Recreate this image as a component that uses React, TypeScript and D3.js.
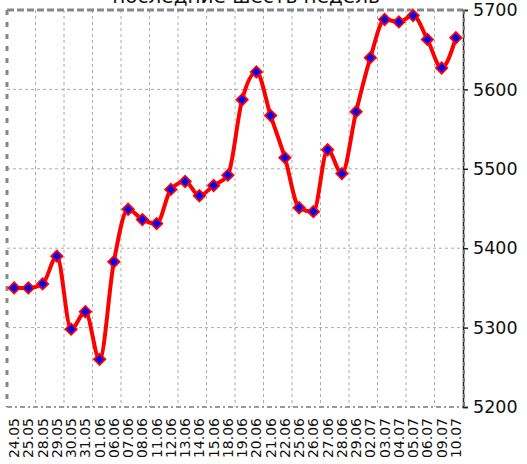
import React, { useEffect, useRef } from "react";
import * as d3 from "d3";

const title = "последние шесть недель";

const dates = [
  "24.05", "25.05", "28.05", "29.05", "30.05", "31.05", "01.06", "06.06",
  "07.06", "08.06", "11.06", "12.06", "13.06", "14.06", "15.06", "18.06",
  "19.06", "20.06", "21.06", "22.06", "25.06", "26.06", "27.06", "28.06",
  "29.06", "02.07", "03.07", "04.07", "05.07", "06.07", "09.07", "10.07",
];

const prices = [
  5350, 5350, 5355, 5390, 5298, 5320, 5260, 5383,
  5449, 5436, 5431, 5474, 5484, 5466, 5479, 5492,
  5587, 5622, 5567, 5514, 5451, 5446, 5524, 5494,
  5572, 5640, 5688, 5685, 5693, 5663, 5627, 5665,
];

const yTicks = [5200, 5300, 5400, 5500, 5600, 5700];

const App = () => {
  const ref = useRef(null);
  const width = 527;
  const height = 464;
  const margin = { top: 10, right: 64, bottom: 57, left: 7 };

  useEffect(() => {
    const svg = d3.select(ref.current);
    svg.selectAll("*").remove();

    const x = d3
      .scaleBand()
      .domain(dates)
      .range([margin.left, width - margin.right]);
    const y = d3
      .scaleLinear()
      .domain([5200, 5700])
      .range([height - margin.bottom, margin.top]);

    const x0 = margin.left;
    const x1 = width - margin.right;
    const y0 = margin.top;
    const y1 = height - margin.bottom;

    // grid
    const grid = svg.append("g");
    grid
      .selectAll("line.h")
      .data(yTicks.slice(1, -1))
      .enter()
      .append("line")
      .attr("x1", x0)
      .attr("x2", x1)
      .attr("y1", d => y(d))
      .attr("y2", d => y(d))
      .attr("stroke", "#aaa")
      .attr("stroke-dasharray", "3,3");
    grid
      .selectAll("line.v")
      .data(dates.filter((d, i) => i > 0 && i % 2 === 0))
      .enter()
      .append("line")
      .attr("x1", d => x(d))
      .attr("x2", d => x(d))
      .attr("y1", y0)
      .attr("y2", y1)
      .attr("stroke", "#aaa")
      .attr("stroke-dasharray", "3,3");

    // frame
    svg
      .append("line")
      .attr("x1", x0).attr("x2", x1).attr("y1", y0).attr("y2", y0)
      .attr("stroke", "#888").attr("stroke-width", 3).attr("stroke-dasharray", "7,3");
    svg
      .append("line")
      .attr("x1", x0).attr("x2", x1).attr("y1", y1).attr("y2", y1)
      .attr("stroke", "#999").attr("stroke-width", 2).attr("stroke-dasharray", "5,3,2,3");
    svg
      .append("line")
      .attr("x1", x0).attr("x2", x0).attr("y1", y0).attr("y2", y1)
      .attr("stroke", "#888").attr("stroke-width", 3).attr("stroke-dasharray", "5,7");

    // right axis
    const axis = svg
      .append("g")
      .attr("transform", `translate(${x1},0)`)
      .call(
        d3
          .axisRight(y)
          .tickValues(yTicks)
          .tickFormat(d3.format("d"))
          .tickSize(5)
          .tickPadding(5)
      );
    axis.select(".domain").attr("stroke", "#222").attr("stroke-width", 1.5);
    axis.selectAll(".tick line").attr("stroke", "#222").attr("stroke-width", 1.5);
    axis
      .selectAll(".tick text")
      .attr("font-family", "DejaVu Sans")
      .attr("font-size", 17.5)
      .attr("fill", "#111");
    svg
      .append("line")
      .attr("x1", x1 + 1).attr("x2", x1 + 1).attr("y1", y0).attr("y2", y1)
      .attr("stroke", "#777").attr("stroke-width", 2).attr("stroke-dasharray", "4,4");

    // x labels
    svg
      .append("g")
      .selectAll("text")
      .data(dates)
      .enter()
      .append("text")
      .attr(
        "transform",
        d => `translate(${x(d) + x.bandwidth() / 2 + 5},${y1 + 11}) rotate(-90)`
      )
      .attr("text-anchor", "end")
      .attr("font-family", "DejaVu Sans")
      .attr("font-size", 14)
      .attr("fill", "#111")
      .text(d => d);

    // line
    const line = d3
      .line()
      .x((d, i) => x(dates[i]) + x.bandwidth() / 2)
      .y(d => y(d))
      .curve(d3.curveMonotoneX);
    svg
      .append("path")
      .datum(prices)
      .attr("d", line)
      .attr("fill", "none")
      .attr("stroke", "#ff0000")
      .attr("stroke-width", 4)
      .attr("stroke-linejoin", "round");

    // markers
    const diamond = d3.symbol().type(d3.symbolSquare).size(64);
    svg
      .append("g")
      .selectAll("path")
      .data(prices)
      .enter()
      .append("path")
      .attr("d", diamond)
      .attr(
        "transform",
        (d, i) => `translate(${x(dates[i]) + x.bandwidth() / 2},${y(d)}) rotate(45)`
      )
      .attr("fill", "#0000ff")
      .attr("stroke", "#ff0000")
      .attr("stroke-width", 1.8);

    // title (cut at the top, as in the source)
    svg
      .append("text")
      .attr("x", 246)
      .attr("y", 3)
      .attr("text-anchor", "middle")
      .attr("font-family", "DejaVu Sans")
      .attr("font-size", 20)
      .attr("fill", "#111")
      .text(title);
  }, []);

  return (
    <svg
      ref={ref}
      width={width}
      height={height}
      style={{ position: "absolute", left: 0, top: 0, background: "#fff" }}
    />
  );
};

export default App;
